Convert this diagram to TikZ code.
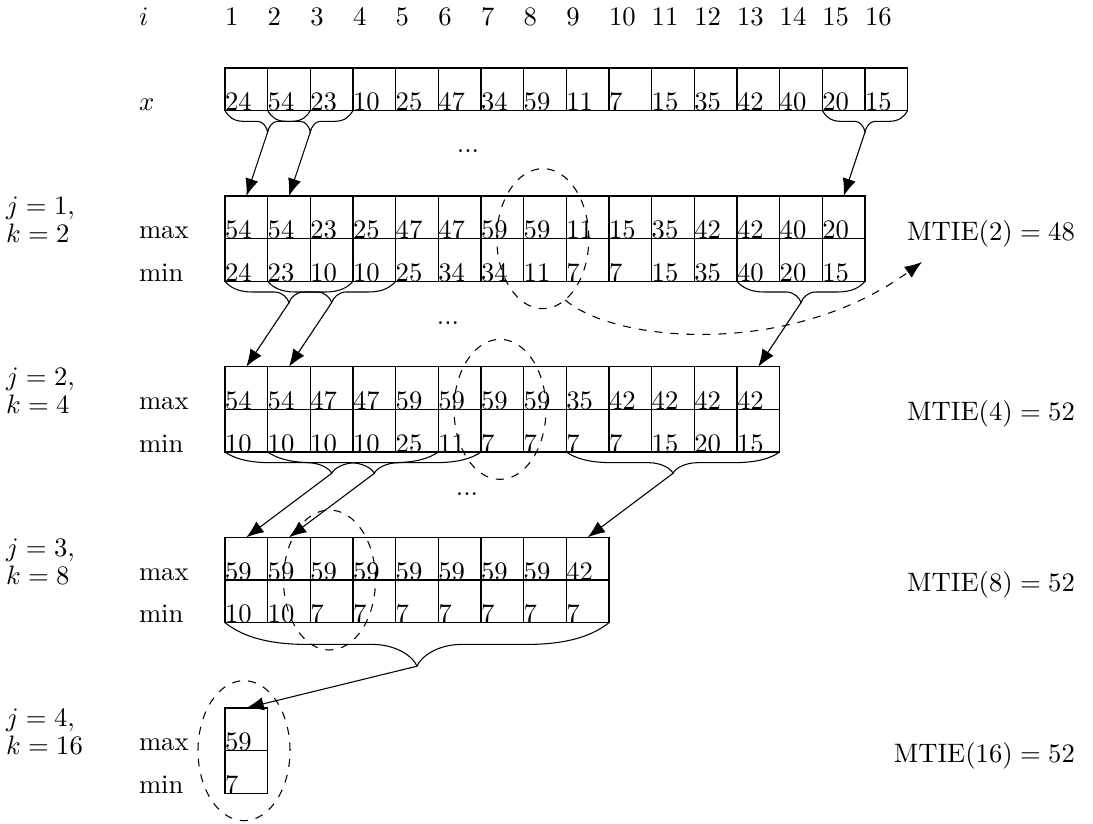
\documentclass[tikz,border=0pt]{standalone}
\usetikzlibrary{arrows.meta,calc,shapes.geometric}
\newcommand{\mmrow}[4]{%
  \foreach \v [count=\i] in {#3} {
    \node[cell] (p#1-\i) at ({225+(\i-0.5)*42.667}, {#2}) {};
    \node[val] (vp#1-\i) at (p#1-\i.south west) {\v};
  }
  \foreach \v [count=\i] in {#4} {
    \node[cell] (q#1-\i) at ({225+(\i-0.5)*42.667}, {#2+42.667}) {};
    \node[val] (vq#1-\i) at (q#1-\i.south west) {\v};
  }
}
% curly brace below a row: #1 left x, #2 right x, #3 y, #4 depth (px)
\newcommand{\cbrace}[4]{%
  \pgfmathsetmacro{\bh}{(#2-#1)/2}
  \pgfmathsetmacro{\bxa}{#1+0.43*\bh}
  \pgfmathsetmacro{\bxb}{#1+0.77*\bh}
  \pgfmathsetmacro{\bxm}{#1+\bh}
  \pgfmathsetmacro{\bxc}{#2-0.77*\bh}
  \pgfmathsetmacro{\bxd}{#2-0.43*\bh}
  \pgfmathsetmacro{\bya}{#3+#4/2}
  \pgfmathsetmacro{\byt}{#3+#4}
  \pgfmathsetmacro{\bcy}{#3+0.55*#4/2}
  \pgfmathsetmacro{\bty}{#3+#4-0.45*#4/2}
  \pgfmathsetmacro{\bxl}{#1+0.08*\bh}
  \pgfmathsetmacro{\bxr}{#2-0.08*\bh}
  \pgfmathsetmacro{\bxla}{#1+0.2*\bh}
  \pgfmathsetmacro{\bxra}{#2-0.2*\bh}
  \pgfmathsetmacro{\bxlb}{#1+0.89*\bh}
  \pgfmathsetmacro{\bxrb}{#2-0.89*\bh}
  \pgfmathsetmacro{\bxlt}{#1+0.98*\bh}
  \pgfmathsetmacro{\bxrt}{#2-0.98*\bh}
  \draw (#1,#3) .. controls (\bxl,\bcy) and (\bxla,\bya) .. (\bxa,\bya)
    -- (\bxb,\bya) .. controls (\bxlb,\bya) and (\bxlt,\bty) .. (\bxm,\byt)
    .. controls (\bxrt,\bty) and (\bxrb,\bya) .. (\bxc,\bya)
    -- (\bxd,\bya) .. controls (\bxra,\bya) and (\bxr,\bcy) .. (#2,#3);
}
\begin{document}
\begin{tikzpicture}[x=0.375pt,y=-0.375pt,
  cell/.style={draw, rectangle, minimum width=16pt, minimum height=16pt, inner sep=0pt, outer sep=0pt},
  val/.style={anchor=base west, inner sep=0pt, outer sep=0pt},
  lab/.style={anchor=base west, inner sep=0pt, outer sep=0pt},
  mtie/.style={anchor=base east, inner sep=0pt, outer sep=0pt},
  arr/.style={-{Latex[length=6.5pt,width=5pt]}},
  ell/.style={draw, dashed, ellipse, minimum width=34.5pt, minimum height=52.5pt, inner sep=0pt, outer sep=0pt},
  dots/.style={inner sep=0pt}
]
\useasboundingbox (0,0) rectangle (1093,823);

% index row
\node[lab] (li) at (139,25.3) {$i$};
\foreach \i in {1,...,16} \node[val] (i\i) at ({225+(\i-1)*42.667},25.3) {\i};

% x row
\node[lab] (lx) at (139,110.667) {$x$};
\foreach \v [count=\i] in {24,54,23,10,25,47,34,59,11,7,15,35,42,40,20,15} {
  \node[cell] (x\i) at ({225+(\i-0.5)*42.667}, 89.333) {};
  \node[val] (xv\i) at (x\i.south west) {\v};
}

% j rows
\mmrow{1}{217.333}{54,54,23,25,47,47,59,59,11,15,35,42,42,40,20}{24,23,10,10,25,34,34,11,7,7,15,35,40,20,15}
\mmrow{2}{388}{54,54,47,47,59,59,59,59,35,42,42,42,42}{10,10,10,10,25,11,7,7,7,7,15,20,15}
\mmrow{3}{558.667}{59,59,59,59,59,59,59,59,42}{10,10,7,7,7,7,7,7,7}
\mmrow{4}{729.333}{59}{7}

% row labels
\node[lab] (lmax1) at (139,238.667) {max};
\node[lab] (lmin1) at (139,281.333) {min};
\node[lab] (lmax2) at (139,409.333) {max};
\node[lab] (lmin2) at (139,452) {min};
\node[lab] (lmax3) at (139,580) {max};
\node[lab] (lmin3) at (139,622.667) {min};
\node[lab] (lmax4) at (139,750.667) {max};
\node[lab] (lmin4) at (139,793.333) {min};

\node[lab] (lj1) at (6,214.7) {$j=1,$};
\node[lab] (lk1) at (6,242.7) {$k=2$};
\node[lab] (lj2) at (6,385.3) {$j=2,$};
\node[lab] (lk2) at (6,413.3) {$k=4$};
\node[lab] (lj3) at (6,556) {$j=3,$};
\node[lab] (lk3) at (6,584) {$k=8$};
\node[lab] (lj4) at (6,726.7) {$j=4,$};
\node[lab] (lk4) at (6,754.7) {$k=16$};

% MTIE labels
\node[mtie] (m2) at (1075,240) {$\mathrm{MTIE}(2) = 48$};
\node[mtie] (m4) at (1075,420) {$\mathrm{MTIE}(4) = 52$};
\node[mtie] (m8) at (1075,591) {$\mathrm{MTIE}(8) = 52$};
\node[mtie] (m16) at (1075,762) {$\mathrm{MTIE}(16) = 52$};

% dots
\node[dots] (d1) at (468,151) {...};
\node[dots] (d2) at (448,323) {...};
\node[dots] (d3) at (467,494.5) {...};

% braces x -> j1
\cbrace{225}{310.333}{110.667}{21.333}
\cbrace{267.667}{353}{110.667}{21.333}
\cbrace{822.333}{907.667}{110.667}{21.333}
\coordinate (tx1) at ($(x1.south east)+(0,21.333)$);
\coordinate (tx2) at ($(x2.south east)+(0,21.333)$);
\coordinate (tx15) at ($(x15.south east)+(0,21.333)$);
\draw[arr] (tx1) -- (p1-1.north);
\draw[arr] (tx2) -- (p1-2.north);
\draw[arr] (tx15) -- (p1-15.north);

% braces j1 -> j2
\cbrace{225}{353}{281.333}{21.333}
\cbrace{267.667}{395.667}{281.333}{21.333}
\cbrace{737}{865}{281.333}{21.333}
\coordinate (t1a) at ($(q1-2.south)+(0,21.333)$);
\coordinate (t1b) at ($(q1-3.south)+(0,21.333)$);
\coordinate (t1c) at ($(q1-14.south)+(0,21.333)$);
\draw[arr] (t1a) -- (p2-1.north);
\draw[arr] (t1b) -- (p2-2.north);
\draw[arr] (t1c) -- (p2-13.north);

% braces j2 -> j3
\cbrace{225}{438.333}{452}{21.333}
\cbrace{267.667}{481}{452}{21.333}
\cbrace{566.333}{779.667}{452}{21.333}
\coordinate (t2a) at ($(q2-3.south)+(0,21.333)$);
\coordinate (t2b) at ($(q2-4.south)+(0,21.333)$);
\coordinate (t2c) at ($(q2-11.south)+(0,21.333)$);
\draw[arr] (t2a) -- (p3-1.north);
\draw[arr] (t2b) -- (p3-2.north);
\draw[arr] (t2c) -- (p3-9.north);

% brace j3 -> j4
\cbrace{225}{609}{622.667}{43.5}
\coordinate (t3a) at ($(q3-5.south)+(0,43.5)$);
\draw[arr] (t3a) -- (p4-1.north);

% ellipses
\node[ell] (e1) at (542.8,238.667) {};
\node[ell] (e2) at (500,409.333) {};
\node[ell] (e3) at (329.5,580) {};
\node[ell] (e4) at (244,750.667) {};

% dashed arrow to MTIE(2)
\coordinate (m2a) at (922,262);
\draw[dashed,arr] (e1.-70) .. controls (615,343) and (790,358) .. (m2a);
\end{tikzpicture}
\end{document}
